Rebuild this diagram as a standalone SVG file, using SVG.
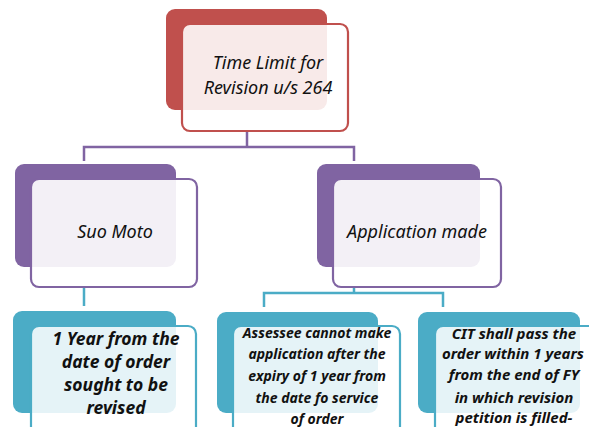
<svg xmlns="http://www.w3.org/2000/svg" width="589" height="427" viewBox="0 0 589 427">
<style>
.bg{stroke:none}
.red{fill:#c0504d}
.pur{fill:#8064a2}
.teal{fill:#4bacc6}
.fr{stroke-width:2.2}
.frR{fill:#ffffff;fill-opacity:0.88;stroke:#c0504d}
.frP{fill:#ffffff;fill-opacity:0.9;stroke:#8064a2}
.frT{fill:#ffffff;fill-opacity:0.86;stroke:#4bacc6}
.t{font-family:"Noto Sans","DejaVu Sans",sans-serif;font-style:italic;fill:#111;text-anchor:middle}
.t1{font-size:18px}
.t2{font-size:14px;font-weight:bold}
.t4{font-size:15px;font-weight:bold}
.t3{font-size:17.5px;font-weight:bold}
.c{fill:none;stroke-width:2.5}
</style>
<rect width="589" height="427" fill="#ffffff"/>
<g id="connectors">
<path class="c" stroke="#8064a2" d="M247 131V147M84 161V147H354V161"/>
<path class="c" stroke="#4bacc6" d="M84 287V306M354 287V293M264 307V293H443V307"/>
</g>
<g id="n_top">
<rect class="bg red" x="166" y="9" width="161" height="101" rx="9"/>
<rect class="fr frR" x="182" y="24" width="166" height="107" rx="8"/>
<text class="t t1" x="268" y="69">Time Limit for</text>
<text class="t t1" x="268" y="94">Revision u/s 264</text>
</g>
<g id="n_suo">
<rect class="bg pur" x="15" y="164" width="161" height="103" rx="9"/>
<rect class="fr frP" x="31" y="179" width="166" height="108" rx="8"/>
<text class="t t1" x="115" y="238">Suo Moto</text>
</g>
<g id="n_app">
<rect class="bg pur" x="317" y="164" width="163" height="103" rx="9"/>
<rect class="fr frP" x="333" y="179" width="168" height="108" rx="8"/>
<text class="t t1" x="417" y="238">Application made</text>
</g>
<g id="n_year">
<rect class="bg teal" x="13" y="311" width="163" height="102" rx="9"/>
<rect class="fr frT" x="31" y="326" width="165" height="110" rx="8"/>
<text class="t t3" x="116" y="345">1 Year from the</text>
<text class="t t3" x="116" y="368">date of order</text>
<text class="t t3" x="116" y="391">sought to be</text>
<text class="t t3" x="116" y="414">revised</text>
</g>
<g id="n_assessee">
<rect class="bg teal" x="217" y="312" width="161" height="101" rx="9"/>
<rect class="fr frT" x="233" y="326" width="167" height="110" rx="8"/>
<text class="t t2" x="317" y="338">Assessee cannot make</text>
<text class="t t2" x="317" y="359">application after the</text>
<text class="t t2" x="317" y="381">expiry of 1 year from</text>
<text class="t t2" x="317" y="403">the date fo service</text>
<text class="t t2" x="317" y="424">of order</text>
</g>
<g id="n_cit">
<rect class="bg teal" x="418" y="312" width="162" height="101" rx="9"/>
<rect class="fr frT" x="435" y="326" width="170" height="110" rx="8"/>
<text class="t t4" x="514" y="339">CIT shall pass the</text>
<text class="t t4" x="513" y="359">order within 1 years</text>
<text class="t t4" x="514" y="380">from the end of FY</text>
<text class="t t4" x="514" y="403">in which revision</text>
<text class="t t4" x="514" y="423">petition is filled-</text>
</g>
</svg>
